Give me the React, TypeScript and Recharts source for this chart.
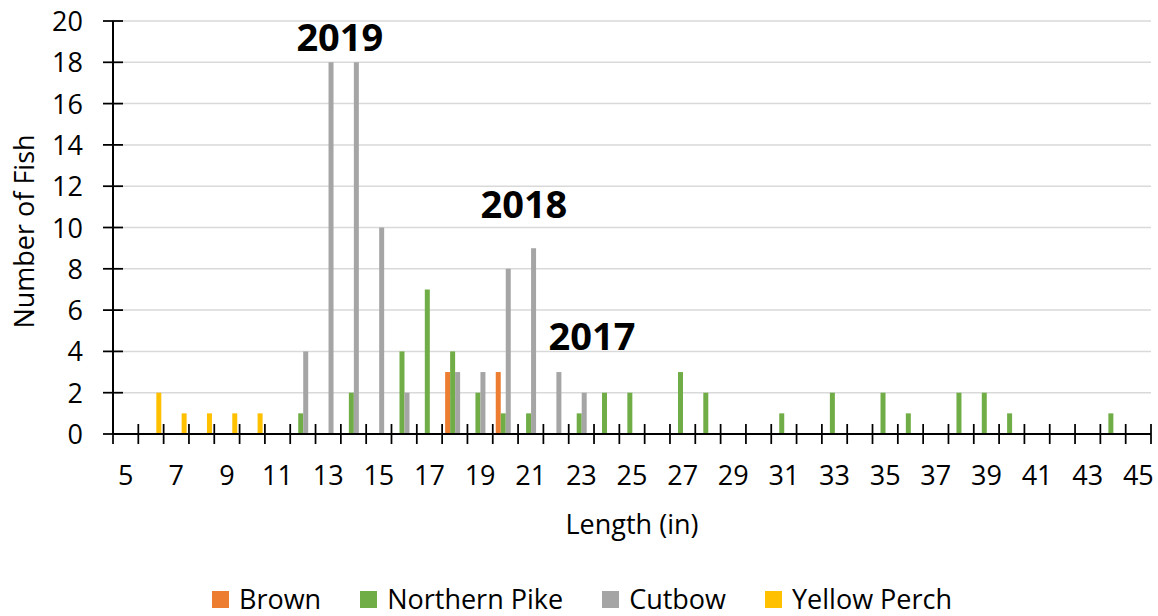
import React from 'react';
import { BarChart, Bar, XAxis, YAxis, CartesianGrid, Legend, ReferenceDot } from 'recharts';

const LENGTHS = [5, 6, 7, 8, 9, 10, 11, 12, 13, 14, 15, 16, 17, 18, 19, 20, 21, 22, 23, 24, 25, 26, 27, 28, 29, 30, 31, 32, 33, 34, 35, 36, 37, 38, 39, 40, 41, 42, 43, 44, 45];

const BROWN = [0, 0, 0, 0, 0, 0, 0, 0, 0, 0, 0, 0, 0, 3, 0, 3, 0, 0, 0, 0, 0, 0, 0, 0, 0, 0, 0, 0, 0, 0, 0, 0, 0, 0, 0, 0, 0, 0, 0, 0, 0];
const NORTHERN_PIKE = [0, 0, 0, 0, 0, 0, 0, 1, 0, 2, 0, 4, 7, 4, 2, 1, 1, 0, 1, 2, 2, 0, 3, 2, 0, 0, 1, 0, 2, 0, 2, 1, 0, 2, 2, 1, 0, 0, 0, 1, 0];
const CUTBOW = [0, 0, 0, 0, 0, 0, 0, 4, 18, 18, 10, 2, 0, 3, 3, 8, 9, 3, 2, 0, 0, 0, 0, 0, 0, 0, 0, 0, 0, 0, 0, 0, 0, 0, 0, 0, 0, 0, 0, 0, 0];
const YELLOW_PERCH = [0, 2, 1, 1, 1, 1, 0, 0, 0, 0, 0, 0, 0, 0, 0, 0, 0, 0, 0, 0, 0, 0, 0, 0, 0, 0, 0, 0, 0, 0, 0, 0, 0, 0, 0, 0, 0, 0, 0, 0, 0];

const X_TICK_LABELS = [5, 7, 9, 11, 13, 15, 17, 19, 21, 23, 25, 27, 29, 31, 33, 35, 37, 39, 41, 43, 45];
const Y_TICKS = [0, 2, 4, 6, 8, 10, 12, 14, 16, 18, 20];

const ANNOTATIONS = [
  { text: '2019', x: 13.46, y: 19.2 },
  { text: '2018', x: 20.73, y: 11.09 },
  { text: '2017', x: 23.42, y: 4.72 },
];

const SERIES = [
  { key: 'Brown', color: '#ED7D31' },
  { key: 'Northern Pike', color: '#70AD47' },
  { key: 'Cutbow', color: '#A5A5A5' },
  { key: 'Yellow Perch', color: '#FFC000' },
];

const data = LENGTHS.map((len, i) => ({
  len,
  Brown: BROWN[i],
  'Northern Pike': NORTHERN_PIKE[i],
  Cutbow: CUTBOW[i],
  'Yellow Perch': YELLOW_PERCH[i],
}));

const BOUNDARIES = [...LENGTHS.map((v) => v - 0.5), LENGTHS[LENGTHS.length - 1] + 0.5];
const X_TICKS = [...BOUNDARIES, ...X_TICK_LABELS].sort((a, b) => a - b);

const FONT = '"Open Sans", sans-serif';

const XTick = (props: any) => {
  const { x, y, payload } = props;
  const v = payload.value;
  if (!Number.isInteger(v)) {
    return <line x1={x} x2={x} y1={y - 10} y2={y + 10} stroke="#000" strokeWidth={1.75} />;
  }
  return (
    <text x={x} y={y + 51} textAnchor="middle" fontFamily={FONT} fontSize={27} fill="#000">
      {v}
    </text>
  );
};

const YTick = (props: any) => {
  const { x, y, payload } = props;
  return (
    <g>
      <line x1={x - 10} x2={x + 10} y1={y} y2={y} stroke="#000" strokeWidth={1.75} />
      <text x={x - 30} y={y + 10} textAnchor="end" fontFamily={FONT} fontSize={27} fill="#000">
        {payload.value}
      </text>
    </g>
  );
};

const LegendContent = (props: any) => {
  const payload = (props.payload || []).slice();
  const order = SERIES.map((s) => s.key);
  payload.sort((a: any, b: any) => order.indexOf(a.value) - order.indexOf(b.value));
  return (
    <div
      style={{
        display: 'flex',
        justifyContent: 'center',
        alignItems: 'center',
        height: 30,
        fontFamily: FONT,
        fontSize: 27,
        color: '#000',
        paddingLeft: 6,
      }}
    >
      {payload.map((item: any, i: number) => (
        <div key={item.value} style={{ display: 'flex', alignItems: 'center', marginLeft: i === 0 ? 0 : 39 }}>
          <div style={{ width: 17, height: 17, background: item.color, marginRight: 10 }} />
          <span style={{ lineHeight: '30px' }}>{item.value}</span>
        </div>
      ))}
    </div>
  );
};

export default function App() {
  return (
    <div style={{ position: 'absolute', left: 0, top: 0, background: '#fff' }}>
      <BarChart
        width={1158}
        height={616}
        data={data}
        margin={{ top: 21, right: 7, left: 0, bottom: 0 }}
        barSize={5}
        barGap={0}
        style={{ fontFamily: FONT }}
      >
        <CartesianGrid vertical={false} stroke="#d9d9d9" strokeWidth={1.5} />
        <XAxis
          dataKey="len"
          type="number"
          domain={[4.5, 45.5]}
          ticks={X_TICKS}
          interval={0}
          tick={<XTick />}
          tickLine={false}
          tickSize={0}
          tickMargin={0}
          height={152}
          axisLine={{ stroke: '#000', strokeWidth: 2 }}
          allowDataOverflow
          label={{
            value: 'Length (in)',
            position: 'insideTop',
            offset: 81,
            fontSize: 27,
            fontFamily: FONT,
            fill: '#000',
          }}
        />
        <YAxis
          domain={[0, 20]}
          ticks={Y_TICKS}
          interval={0}
          width={113}
          tick={<YTick />}
          tickLine={false}
          tickSize={0}
          tickMargin={0}
          axisLine={{ stroke: '#000', strokeWidth: 2 }}
          label={{
            value: 'Number of Fish',
            angle: -90,
            position: 'insideLeft',
            offset: 24,
            dy: 4,
            fontSize: 27,
            fontFamily: FONT,
            fill: '#000',
            style: { textAnchor: 'middle' },
          }}
        />
        <Legend
          verticalAlign="bottom"
          content={<LegendContent />}
          wrapperStyle={{ left: 0, width: 1158, bottom: 2 }}
        />
        {SERIES.map((s) => (
          <Bar key={s.key} dataKey={s.key} fill={s.color} isAnimationActive={false} />
        ))}
        {ANNOTATIONS.map((a) => (
          <ReferenceDot
            key={a.text}
            x={a.x}
            y={a.y}
            r={1}
            fill="none"
            stroke="none"
            label={{
              value: a.text,
              position: 'center',
              fontSize: 38,
              fontWeight: 700,
              fontFamily: FONT,
              fill: '#000',
            }}
          />
        ))}
      </BarChart>
    </div>
  );
}
